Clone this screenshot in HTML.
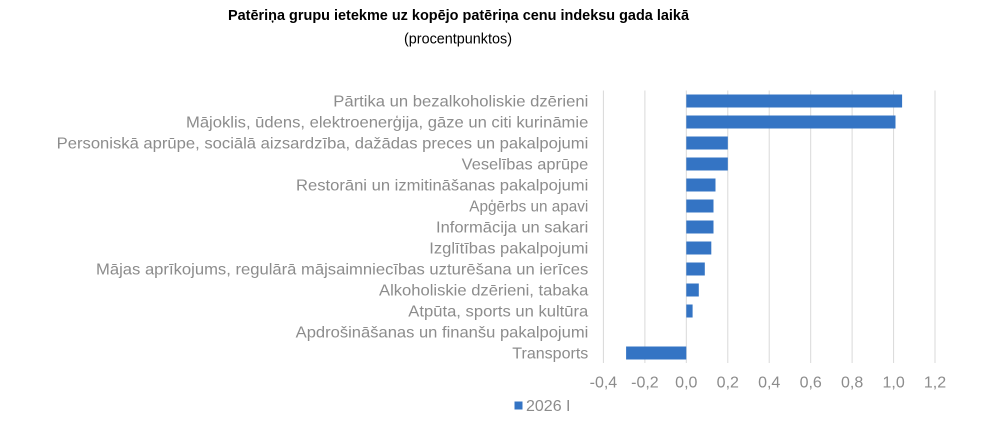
<!DOCTYPE html>
<html><head><meta charset="utf-8"><style>
html,body{margin:0;padding:0;background:#fff;}
svg{display:block;}
text{font-family:"Liberation Sans",Arial,sans-serif;}
</style></head><body>
<svg width="1000" height="432" viewBox="0 0 1000 432" xmlns="http://www.w3.org/2000/svg">
<rect width="1000" height="432" fill="#fff"/>
<text x="458.5" y="20" text-anchor="middle" font-size="14.5" font-weight="bold" fill="#000" textLength="461" lengthAdjust="spacingAndGlyphs">Patēriņa grupu ietekme uz kopējo patēriņa cenu indeksu gada laikā</text>
<text x="458" y="43.5" text-anchor="middle" font-size="14.5" fill="#000" textLength="108" lengthAdjust="spacingAndGlyphs">(procentpunktos)</text>
<g stroke="#d9d9d9" stroke-width="1">
<line x1="603.4" y1="90.5" x2="603.4" y2="363"/>
<line x1="644.9" y1="90.5" x2="644.9" y2="363"/>
<line x1="686.3" y1="90.5" x2="686.3" y2="363"/>
<line x1="727.8" y1="90.5" x2="727.8" y2="363"/>
<line x1="769.2" y1="90.5" x2="769.2" y2="363"/>
<line x1="810.7" y1="90.5" x2="810.7" y2="363"/>
<line x1="852.1" y1="90.5" x2="852.1" y2="363"/>
<line x1="893.6" y1="90.5" x2="893.6" y2="363"/>
<line x1="935.0" y1="90.5" x2="935.0" y2="363"/>
</g>
<g fill="#3474c4">
<rect x="686.3" y="94.5" width="215.8" height="13"/>
<rect x="686.3" y="115.5" width="209.2" height="13"/>
<rect x="686.3" y="136.5" width="41.5" height="13"/>
<rect x="686.3" y="157.5" width="41.5" height="13"/>
<rect x="686.3" y="178.5" width="29.2" height="13"/>
<rect x="686.3" y="199.5" width="27.2" height="13"/>
<rect x="686.3" y="220.5" width="27.2" height="13"/>
<rect x="686.3" y="241.5" width="25" height="13"/>
<rect x="686.3" y="262.5" width="18.5" height="13"/>
<rect x="686.3" y="283.5" width="12.5" height="13"/>
<rect x="686.3" y="304.5" width="6.3" height="13"/>
<rect x="626.1" y="346.5" width="60.2" height="13"/>
</g>
<g font-size="16" fill="#8c8c8c" text-anchor="end">
<text x="588.3" y="106.5" textLength="255" lengthAdjust="spacingAndGlyphs">Pārtika un bezalkoholiskie dzērieni</text>
<text x="588.3" y="127.5" textLength="402.3" lengthAdjust="spacingAndGlyphs">Mājoklis, ūdens, elektroenerģija, gāze un citi kurināmie</text>
<text x="588.3" y="148.5" textLength="531.6" lengthAdjust="spacingAndGlyphs">Personiskā aprūpe, sociālā aizsardzība, dažādas preces un pakalpojumi</text>
<text x="588.3" y="169.5" textLength="126.6" lengthAdjust="spacingAndGlyphs">Veselības aprūpe</text>
<text x="588.3" y="190.5" textLength="292.3" lengthAdjust="spacingAndGlyphs">Restorāni un izmitināšanas pakalpojumi</text>
<text x="588.3" y="211.5" textLength="119" lengthAdjust="spacingAndGlyphs">Apģērbs un apavi</text>
<text x="588.3" y="232.5" textLength="152.3" lengthAdjust="spacingAndGlyphs">Informācija un sakari</text>
<text x="588.3" y="253.5" textLength="159" lengthAdjust="spacingAndGlyphs">Izglītības pakalpojumi</text>
<text x="588.3" y="274.5" textLength="492.3" lengthAdjust="spacingAndGlyphs">Mājas aprīkojums, regulārā mājsaimniecības uzturēšana un ierīces</text>
<text x="588.3" y="295.5" textLength="209.3" lengthAdjust="spacingAndGlyphs">Alkoholiskie dzērieni, tabaka</text>
<text x="588.3" y="316.5" textLength="180" lengthAdjust="spacingAndGlyphs">Atpūta, sports un kultūra</text>
<text x="588.3" y="337.5" textLength="292.6" lengthAdjust="spacingAndGlyphs">Apdrošināšanas un finanšu pakalpojumi</text>
<text x="588.3" y="358.5" textLength="76" lengthAdjust="spacingAndGlyphs">Transports</text>
</g>
<g font-size="16" fill="#8c8c8c" text-anchor="middle">
<text x="603.4" y="387.5">-0,4</text>
<text x="644.9" y="387.5">-0,2</text>
<text x="686.3" y="387.5">0,0</text>
<text x="727.8" y="387.5">0,2</text>
<text x="769.2" y="387.5">0,4</text>
<text x="810.7" y="387.5">0,6</text>
<text x="852.1" y="387.5">0,8</text>
<text x="893.6" y="387.5">1,0</text>
<text x="935.0" y="387.5">1,2</text>
</g>
<rect x="514.5" y="401.5" width="8" height="8" fill="#3474c4"/>
<text x="526" y="411" font-size="16" fill="#8c8c8c">2026 I</text>
</svg>
</body></html>
